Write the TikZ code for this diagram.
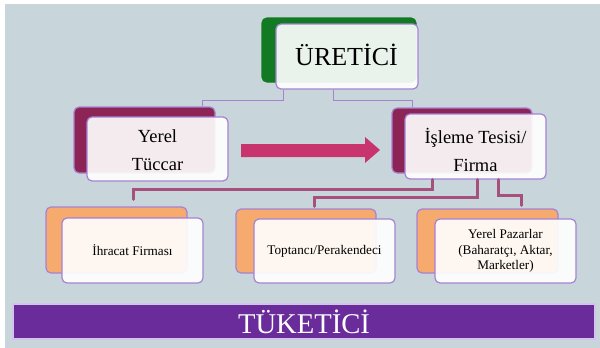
\documentclass[tikz,border=0pt]{standalone}
\usepackage{fontspec}
\setmainfont{Liberation Serif}
\definecolor{bgc}{RGB}{200,214,220}
\definecolor{greenc}{RGB}{18,122,34}
\definecolor{maroonc}{RGB}{140,36,86}
\definecolor{orangec}{RGB}{246,170,110}
\definecolor{lavc}{RGB}{165,130,210}
\definecolor{arrowc}{RGB}{200,52,110}
\definecolor{connc}{RGB}{165,80,125}
\definecolor{barc}{RGB}{106,44,154}
\definecolor{barlinec}{RGB}{210,195,235}
\begin{document}
\begin{tikzpicture}[x=1pt,y=-1pt,
  box/.style={rounded corners=5pt, inner sep=0pt, line width=1.2pt, draw=lavc, align=center},
  backbox/.style={box},
  frontbox/.style={box, fill=white, fill opacity=0.91, text opacity=1},
  thinconn/.style={draw=lavc, line width=1pt},
  thickconn/.style={draw=connc, line width=3pt, line cap=round},
  bigtext/.style={font=\fontsize{26}{30}\selectfont},
  midtext/.style={font=\fontsize{18.5}{28.5}\selectfont},
  smalltext/.style={font=\fontsize{13.2}{15.5}\selectfont}]
\fill[white] (0,0) rectangle (600,348);
\fill[bgc] (5,4) rectangle (600,348);
\useasboundingbox (0,0) rectangle (600,348);

% producer
\node[backbox, fill=greenc, draw=greenc, minimum width=154pt, minimum height=64pt] (urb) at (339,50) {};
\node[frontbox, minimum width=142pt, minimum height=65pt] (urf) at (347,56.5) {};
\node[bigtext, inner sep=0pt] (urt) at (346.5,55) {ÜRETİCİ};

% local trader
\node[backbox, fill=maroonc, minimum width=141pt, minimum height=66pt] (ytb) at (144.5,140) {};
\node[frontbox, minimum width=141pt, minimum height=64pt] (ytf) at (157.5,149) {};
\node[midtext, align=center, inner sep=0pt] (ytt) at (157.5,150) {Yerel\\Tüccar};

% processing
\node[backbox, fill=maroonc, minimum width=140pt, minimum height=65pt] (isb) at (462,140.5) {};
\node[frontbox, minimum width=141pt, minimum height=65pt] (isf) at (475.5,146.5) {};
\node[midtext, align=center, inner sep=0pt] (ist) at (475.5,150) {İşleme Tesisi/\\Firma};

% bottom boxes
\node[backbox, fill=orangec, minimum width=141pt, minimum height=66pt] (b1b) at (116.5,240) {};
\node[frontbox, minimum width=141pt, minimum height=65pt, smalltext] (b1f) at (132.5,250.5) {İhracat Firması};
\node[backbox, fill=orangec, minimum width=140pt, minimum height=64pt] (b2b) at (306,241) {};
\node[frontbox, minimum width=141pt, minimum height=64pt, smalltext] (b2f) at (324.5,251) {Toptancı/Perakendeci};
\node[backbox, fill=orangec, minimum width=141pt, minimum height=64pt] (b3b) at (487.5,241) {};
\node[frontbox, minimum width=141pt, minimum height=64pt, smalltext] (b3f) at (505.5,251) {Yerel Pazarlar\\(Baharatçı, Aktar,\\Marketler)};

% consumer bar
\node[draw=barlinec, line width=1.2pt, fill=barc, inner sep=0pt, minimum width=582pt, minimum height=35pt,
      text=white, font=\fontsize{28.6}{34}\selectfont] (bar) at (304,321.5) {TÜKETİCİ};

% block arrow
\fill[arrowc] (241,144) -- (365,144) -- (365,137) -- (380,150) -- (365,163) -- (365,157) -- (241,157) -- cycle;

% thin connectors
\draw[thinconn] ([xshift=-64pt]urf.south) -- ++(0,11) -| ([xshift=57.5pt]ytb.north);
\draw[thinconn] ([xshift=-14pt]urf.south) -- ++(0,11) -| ([xshift=-50pt]isb.north);

% thick connectors
\draw[thickconn] ([xshift=-43.5pt]isf.south) -- ++(0,10) -| ([xshift=16.5pt,yshift=7pt]b1b.north);
\draw[thickconn] ([xshift=1.5pt]isf.south) -- ++(0,18) -| ([xshift=8pt,yshift=2pt]b2b.north);
\draw[thickconn] ([xshift=22.5pt]isf.south) -- ++(0,16) -| ([xshift=33.5pt,yshift=3pt]b3b.north);
\end{tikzpicture}
\end{document}
